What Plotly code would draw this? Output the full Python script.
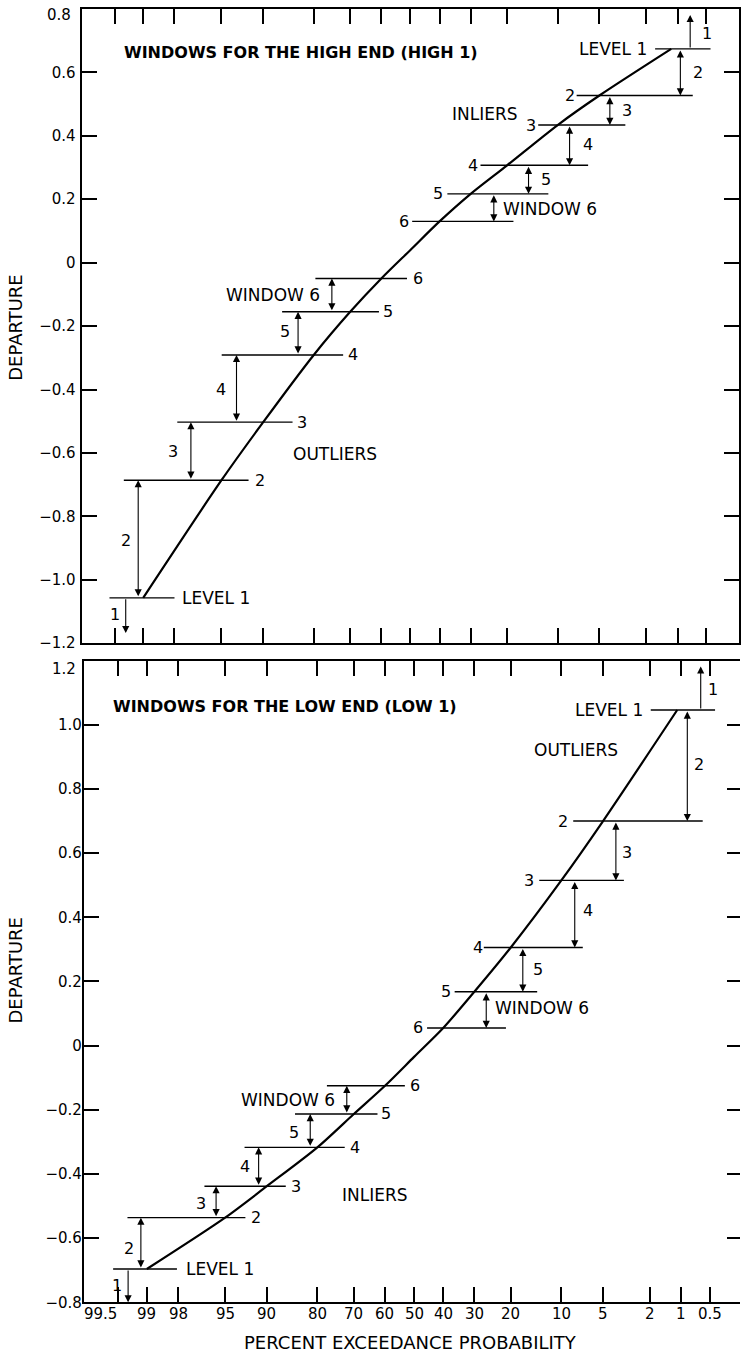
import plotly.graph_objects as go
from statistics import NormalDist

_nd = NormalDist()


def zx(p):
    """Percent exceedance probability -> coordinate on a normal-probability axis."""
    return _nd.inv_cdf(1.0 - p / 100.0)


# ------------------------------------------------------------------ data
X_TICK_P = [99.5, 99, 98, 95, 90, 80, 70, 60, 50, 40, 30, 20, 10, 5, 2, 1, 0.5]
X_TICK_LABELS = ["99.5", "99", "98", "95", "90", "80", "70", "60", "50",
                 "40", "30", "20", "10", "5", "2", "1", "0.5"]
Y_TICKS_HIGH = [-1.2, -1.0, -0.8, -0.6, -0.4, -0.2, 0.0, 0.2, 0.4, 0.6]
Y_LABELS_HIGH = ["\u22121.2", "\u22121.0", "\u22120.8", "\u22120.6", "\u22120.4",
                 "\u22120.2", "0", "0.2", "0.4", "0.6"]
Y_TICKS_LOW = [-0.8, -0.6, -0.4, -0.2, 0.0, 0.2, 0.4, 0.6, 0.8, 1.0]
Y_LABELS_LOW = ["\u22120.8", "\u22120.6", "\u22120.4", "\u22120.2", "0",
                "0.2", "0.4", "0.6", "0.8", "1.0"]

WINDOW_NAMES = ["1", "2", "3", "4", "5", "WINDOW 6"]
LEVEL_NAMES = ["LEVEL 1", "2", "3", "4", "5", "6"]

# --- windows for the high end (HIGH 1)
HIGH_CURVE_P = [99, 95, 90, 80, 70, 60, 50, 40, 30, 20, 10, 5, 1.16]
HIGH_CURVE_DEP = [-1.057, -0.686, -0.503, -0.291, -0.155, -0.050, 0.040,
                  0.130, 0.217, 0.307, 0.434, 0.527, 0.674]
HIGH_LOW_LEVELS = [-1.057, -0.686, -0.503, -0.291, -0.155, -0.050]
HIGH_LOW_FROM_P = [99.56, 99.37, 97.88, 94.98, 86.8, 79.6]
HIGH_LOW_TO_P = [98.0, 92.06, 84.76, 72.1, 60.8, 51.2]
HIGH_UP_LEVELS = [0.674, 0.527, 0.434, 0.307, 0.217, 0.130]
HIGH_UP_FROM_P = [1.66, 7.4, 13.3, 27.1, 37.4, 49.4]
HIGH_UP_TO_P = [0.45, 0.70, 3.07, 6.1, 11.5, 18.5]
HIGH_LOW_ARROW_P = [99.34, 99.11, 97.2, 93.5, 83.6, 75.3]
HIGH_UP_ARROW_P = [0.745, 0.94, 4.13, 8.3, 15.2, 23.4]
HIGH_WINDOW1_ENDS = [-1.168, 0.781]

# --- windows for the low end (LOW 1)
LOW_CURVE_P = [99, 95, 90, 80, 70, 60, 50, 40, 30, 20, 10, 5, 1.1]
LOW_CURVE_DEP = [-0.696, -0.536, -0.438, -0.317, -0.213, -0.125, -0.035,
                 0.055, 0.168, 0.306, 0.515, 0.700, 1.046]
LOW_LOW_LEVELS = [-0.696, -0.536, -0.438, -0.317, -0.213, -0.125]
LOW_LOW_FROM_P = [99.56, 99.37, 96.6, 93.0, 85.0, 77.6]
LOW_LOW_TO_P = [98.05, 92.9, 86.8, 72.7, 62.5, 53.2]
LOW_UP_LEVELS = [1.046, 0.700, 0.515, 0.306, 0.168, 0.055]
LOW_UP_FROM_P = [1.97, 8.3, 13.8, 27.2, 36.2, 45.5]
LOW_UP_TO_P = [0.44, 0.60, 3.39, 7.1, 14.2, 21.2]
LOW_LOW_ARROW_P = [99.36, 99.13, 95.76, 91.2, 81.7, 72.1]
LOW_UP_ARROW_P = [0.63, 0.87, 3.95, 8.1, 17.2, 26.5]
LOW_WINDOW1_ENDS = [-0.80, 1.182]

# ------------------------------------------------------------ label placement
HIGH_LABELS = dict(
    low_win_p=[99.5, 99.34, 98.06, 95.05, 86.3, 78.3],
    low_win_d=[-1.109, -0.876, -0.595, -0.399, -0.218, -0.101],
    up_win_p=[0.497, 0.62, 2.98, 6.15, 11.9, 21.3],
    up_win_d=[0.724, 0.600, 0.480, 0.372, 0.262, 0.170],
    low_lvl_p=[97.7, 90.5, 82.7, 69.2, 57.8, 47.3],
    up_lvl_p=[1.92, 8.3, 14.7, 29.3, 40.4, 52.4],
    inliers=(25.7, 0.468), outliers=(74.3, -0.603),
    title=(99.39, 0.664), title_text="WINDOWS FOR THE HIGH END (HIGH 1)",
)
LOW_LABELS = dict(
    low_win_p=[99.51, 99.35, 96.8, 93.0, 85.2, 75.1],
    low_win_d=[-0.747, -0.631, -0.491, -0.376, -0.271, -0.169],
    up_win_p=[0.46, 0.66, 3.2, 6.55, 14.0, 24.2],
    up_win_d=[1.109, 0.877, 0.602, 0.421, 0.238, 0.118],
    low_lvl_p=[97.7, 91.5, 84.7, 69.7, 59.6, 49.6],
    up_lvl_p=[2.26, 9.8, 15.8, 29.0, 39.0, 48.8],
    inliers=(63.4, -0.464), outliers=(8.0, 0.921),
    title=(99.57, 1.057), title_text="WINDOWS FOR THE LOW END (LOW 1)",
)

FONT = "DejaVu Sans, Liberation Sans, Arial, sans-serif"
W, H = 741, 1362

fig = go.Figure()
anns = []


def text_ann(txt, p, d, xref, yref, xanchor="center", size=16):
    return dict(x=zx(p), y=d, xref=xref, yref=yref, text=txt, showarrow=False,
                xanchor=xanchor, yanchor="middle", borderpad=0,
                font=dict(family=FONT, size=size, color="black"))


def arrow_ann(p, y_tail, y_head, xref, yref, both=True):
    a = dict(x=zx(p), y=y_head, ax=zx(p), ay=y_tail, xref=xref, yref=yref,
             axref=xref, ayref=yref, text="", showarrow=True, arrowhead=2,
             arrowsize=1.3, arrowwidth=1.1, arrowcolor="black",
             standoff=0, startstandoff=0)
    if both:
        a.update(arrowside="end+start", startarrowhead=2, startarrowsize=1.3)
    return a


def draw_panel(xa, ya, curve_p, curve_d, lo_lv, lo_from, lo_to, up_lv, up_from,
               up_to, lo_arrow, up_arrow, w1_ends, lab):
    xref, yref = xa, ya
    # curve
    fig.add_trace(go.Scatter(
        x=[zx(p) for p in curve_p], y=curve_d, mode="lines",
        line=dict(color="black", width=2.2, shape="spline", smoothing=0.8),
        xaxis=xa, yaxis=ya, hoverinfo="skip", showlegend=False))
    # window level lines
    xs, ys = [], []
    for lv, a, b in list(zip(lo_lv, lo_from, lo_to)) + list(zip(up_lv, up_from, up_to)):
        xs += [zx(a), zx(b), None]
        ys += [lv, lv, None]
    fig.add_trace(go.Scatter(x=xs, y=ys, mode="lines",
                             line=dict(color="black", width=1.4),
                             xaxis=xa, yaxis=ya, hoverinfo="skip", showlegend=False))
    # arrows
    anns.append(arrow_ann(lo_arrow[0], lo_lv[0], w1_ends[0], xref, yref, both=False))
    anns.append(arrow_ann(up_arrow[0], up_lv[0], w1_ends[1], xref, yref, both=False))
    for k in range(1, 6):
        anns.append(arrow_ann(lo_arrow[k], lo_lv[k - 1], lo_lv[k], xref, yref))
        anns.append(arrow_ann(up_arrow[k], up_lv[k - 1], up_lv[k], xref, yref))
    # window labels
    for k in range(6):
        anns.append(text_ann(WINDOW_NAMES[k], lab["low_win_p"][k], lab["low_win_d"][k],
                             xref, yref, xanchor="right" if k == 5 else "center",
                             size=17 if k == 5 else 16))
        anns.append(text_ann(WINDOW_NAMES[k], lab["up_win_p"][k], lab["up_win_d"][k],
                             xref, yref, xanchor="left" if k == 5 else "center",
                             size=17 if k == 5 else 16))
    # level labels
    for k in range(6):
        anns.append(text_ann(LEVEL_NAMES[k], lab["low_lvl_p"][k], lo_lv[k], xref, yref,
                             xanchor="left" if k == 0 else "center",
                             size=17 if k == 0 else 16))
        anns.append(text_ann(LEVEL_NAMES[k], lab["up_lvl_p"][k], up_lv[k], xref, yref,
                             xanchor="right" if k == 0 else "center",
                             size=17 if k == 0 else 16))
    anns.append(text_ann("INLIERS", *lab["inliers"], xref, yref, size=17))
    anns.append(text_ann("OUTLIERS", *lab["outliers"], xref, yref, size=17))
    anns.append(text_ann("<b>%s</b>" % lab["title_text"], *lab["title"], xref, yref,
                         xanchor="left", size=16))


draw_panel("x", "y", HIGH_CURVE_P, HIGH_CURVE_DEP, HIGH_LOW_LEVELS, HIGH_LOW_FROM_P,
           HIGH_LOW_TO_P, HIGH_UP_LEVELS, HIGH_UP_FROM_P, HIGH_UP_TO_P,
           HIGH_LOW_ARROW_P, HIGH_UP_ARROW_P, HIGH_WINDOW1_ENDS, HIGH_LABELS)
draw_panel("x2", "y2", LOW_CURVE_P, LOW_CURVE_DEP, LOW_LOW_LEVELS, LOW_LOW_FROM_P,
           LOW_LOW_TO_P, LOW_UP_LEVELS, LOW_UP_FROM_P, LOW_UP_TO_P,
           LOW_LOW_ARROW_P, LOW_UP_ARROW_P, LOW_WINDOW1_ENDS, LOW_LABELS)
# carrier trace for the right-hand tick axis of the lower panel
fig.add_trace(go.Scatter(x=[None], y=[None], xaxis="x2", yaxis="y3",
                         showlegend=False, hoverinfo="skip"))

# probability tick labels under the lower panel (99.5 sits left of its tick, as printed)
for p, t in zip(X_TICK_P, X_TICK_LABELS):
    anns.append(dict(x=zx(p), y=1 - 1323 / H, xref="x2", yref="paper", text=t,
                     showarrow=False, xanchor="right" if t == "99.5" else "center",
                     yanchor="middle", borderpad=0,
                     font=dict(family=FONT, size=15, color="black")))

# axis titles and edge tick labels
for yc in (1 - 329 / H, 1 - 976 / H):
    anns.append(dict(x=16 / W, y=yc, xref="paper", yref="paper", text="DEPARTURE",
                     textangle=-90, showarrow=False, xanchor="center", yanchor="middle",
                     font=dict(family=FONT, size=18, color="black")))
anns.append(dict(x=411 / W, y=1 - 1351 / H, xref="paper", yref="paper",
                 text="PERCENT EXCEEDANCE PROBABILITY", showarrow=False,
                 xanchor="center", yanchor="middle",
                 font=dict(family=FONT, size=18, color="black")))
anns.append(dict(x=72 / W, y=1 - 15 / H, xref="paper", yref="paper", text="0.8",
                 showarrow=False, xanchor="right", yanchor="middle", borderpad=0,
                 font=dict(family=FONT, size=15, color="black")))
anns.append(dict(x=77 / W, y=1 - 673 / H, xref="paper", yref="paper", text="1.2",
                 showarrow=False, xanchor="right", yanchor="middle", borderpad=0,
                 font=dict(family=FONT, size=15, color="black")))

x_tick_vals = [zx(p) for p in X_TICK_P]

common = dict(showgrid=False, zeroline=False, showline=True, linecolor="black",
              linewidth=2, ticks="inside", ticklen=15, tickwidth=1.5,
              tickcolor="black", tickfont=dict(family=FONT, size=15, color="black"))

# pixel geometry of the two panels
TOP_PX = (81.7, 739.6, 9.0, 647.5)      # left, right, top, bottom
BOT_PX = (84.0, 741.0, 665.0, 1311.0)
TOP_CENTER50, BOT_CENTER50, PX_PER_Z = 411.0, 414.65, 115.04

fig.update_layout(
    width=W, height=H, margin=dict(l=0, r=0, t=0, b=0), autosize=False,
    plot_bgcolor="white", paper_bgcolor="white", showlegend=False,
    xaxis=dict(domain=[TOP_PX[0] / W, TOP_PX[1] / W],
               range=[(TOP_PX[0] - TOP_CENTER50) / PX_PER_Z, (TOP_PX[1] - TOP_CENTER50) / PX_PER_Z],
               tickvals=x_tick_vals, showticklabels=False, mirror="ticks",
               anchor="y", **common),
    yaxis=dict(domain=[1 - TOP_PX[3] / H, 1 - TOP_PX[2] / H], range=[-1.2, 0.8],
               tickvals=Y_TICKS_HIGH, ticktext=Y_LABELS_HIGH, mirror="ticks",
               anchor="x", ticklabelstandoff=1, **common),
    xaxis2=dict(domain=[BOT_PX[0] / W, 1.0],
                range=[(BOT_PX[0] - BOT_CENTER50) / PX_PER_Z, (BOT_PX[1] - BOT_CENTER50) / PX_PER_Z],
                tickvals=x_tick_vals, showticklabels=False, mirror="ticks",
                anchor="y2", **common),
    yaxis2=dict(domain=[1 - BOT_PX[3] / H, 1 - BOT_PX[2] / H], range=[-0.8, 1.2],
                tickvals=Y_TICKS_LOW, ticktext=Y_LABELS_LOW, mirror=False,
                anchor="x2", ticklabelstandoff=-3, **common),
    yaxis3=dict(overlaying="y2", side="right", anchor="x2", range=[-0.8, 1.2],
                tickvals=Y_TICKS_LOW[1:], showticklabels=False, showline=False,
                ticks="inside", ticklen=13, tickwidth=1.5, tickcolor="black",
                showgrid=False, zeroline=False),
    annotations=anns,
)

# the page body gets no default 8px margin, so the 741x1362 figure fills the window
fig.write_html("out.html",
               config={"displayModeBar": False},
               post_script="document.body.style.margin='0px';"
                           "document.body.style.overflow='hidden';")
